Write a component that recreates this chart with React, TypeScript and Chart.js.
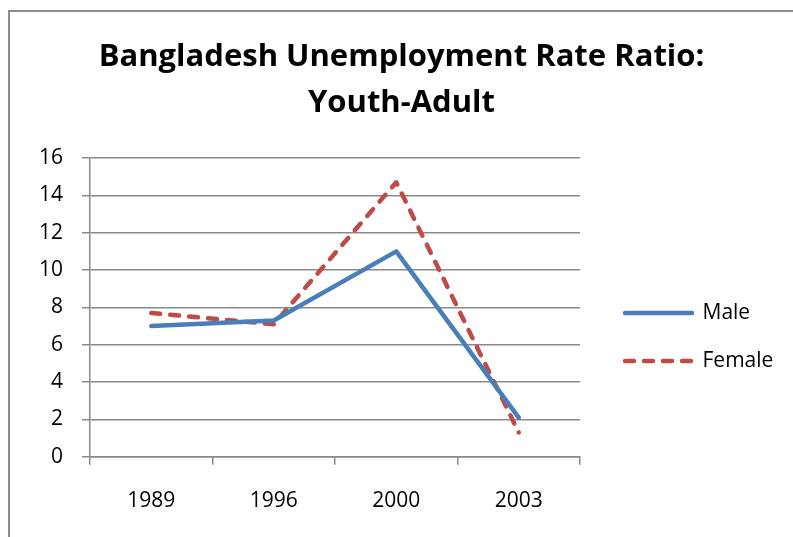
import React, { useEffect, useRef } from "react";
import { Chart, registerables } from "chart.js";
Chart.register(...registerables);

const years = ["1989", "1996", "2000", "2003"];
const male = [7.0, 7.3, 11.0, 2.1];
const female = [7.7, 7.1, 14.7, 1.3];
const titleLines = ["Bangladesh Unemployment Rate Ratio:", "Youth-Adult"];
const yMin = 0;
const yMax = 16;
const yStep = 2;

const FONT = "'Open Sans', Lato, sans-serif";
const AXIS = "#898989";

export default function App() {
  const ref = useRef<HTMLCanvasElement>(null);
  useEffect(() => {
    document.body.style.margin = "0";
    const chart = new Chart(ref.current!, {
      type: "line",
      data: {
        labels: years,
        datasets: [
          {
            label: "Male",
            data: male,
            borderColor: "#4A7EBB",
            backgroundColor: "#4A7EBB",
            borderWidth: 4.5,
            borderCapStyle: "round",
            borderJoinStyle: "round",
            pointRadius: 0,
            tension: 0,
          },
          {
            label: "Female",
            data: female,
            borderColor: "#BE4B48",
            backgroundColor: "#BE4B48",
            borderWidth: 4.5,
            borderDash: [9, 10],
            borderCapStyle: "round",
            borderJoinStyle: "round",
            pointRadius: 0,
            tension: 0,
          },
        ],
      },
      options: {
        animation: false,
        responsive: false,
        layout: { padding: { top: 0, right: 10, bottom: -1, left: 20 } },
        plugins: {
          title: {
            display: true,
            text: titleLines,
            color: "#000",
            font: { family: FONT, size: 31, weight: "bold", lineHeight: 46 / 31 },
            padding: { top: 34, bottom: 32 },
          },
          legend: {
            position: "right",
            maxWidth: 185,
            title: { display: true, text: " ", font: { size: 10, lineHeight: 1.2 }, padding: 62 },
            labels: {
              usePointStyle: true,
              pointStyle: "line",
              pointStyleWidth: 67,
              color: "#000",
              font: { family: FONT, size: 21 },
              padding: 27,
              generateLabels: (c: any) => {
                const items = Chart.defaults.plugins.legend.labels.generateLabels(c);
                return items.map((it: any, i: number) => {
                  const ds: any = c.data.datasets[i];
                  return {
                    ...it,
                    strokeStyle: ds.borderColor,
                    fillStyle: ds.borderColor,
                    lineWidth: ds.borderWidth,
                    lineDash: ds.borderDash || [],
                    lineCap: "round",
                    pointStyle: "line",
                  };
                });
              },
            },
          },
          tooltip: { enabled: false },
        },
        scales: {
          x: {
            offset: true,
            grid: {
              offset: true,
              drawOnChartArea: false,
              drawTicks: true,
              tickLength: 8,
              color: AXIS,
              lineWidth: 1.5,
            },
            border: { color: AXIS, width: 1.5 },
            ticks: { padding: 24, color: "#000", font: { family: FONT, size: 21 } },
          },
          y: {
            min: yMin,
            max: yMax,
            ticks: { stepSize: yStep, padding: 19, color: "#000", font: { family: FONT, size: 21 } },
            grid: { color: AXIS, lineWidth: 1.5, tickLength: 8 },
            border: { color: AXIS, width: 1.5 },
          },
          gap: {
            type: "linear",
            position: "right",
            display: false,
            afterFit: (s: any) => {
              s.width = 18;
            },
          },
        },
      },
    });
    return () => chart.destroy();
  }, []);
  return (
    <div style={{ position: "relative", width: 793, height: 537, overflow: "hidden", background: "#fff" }}>
      <div
        style={{
          position: "absolute",
          left: 8,
          top: 10,
          width: 900,
          height: 700,
          borderLeft: "2px solid #8c8c8c",
          borderTop: "2px solid #8c8c8c",
        }}
      />
      <canvas ref={ref} width={793} height={537} style={{ position: "absolute", left: 0, top: 0 }} />
    </div>
  );
}
